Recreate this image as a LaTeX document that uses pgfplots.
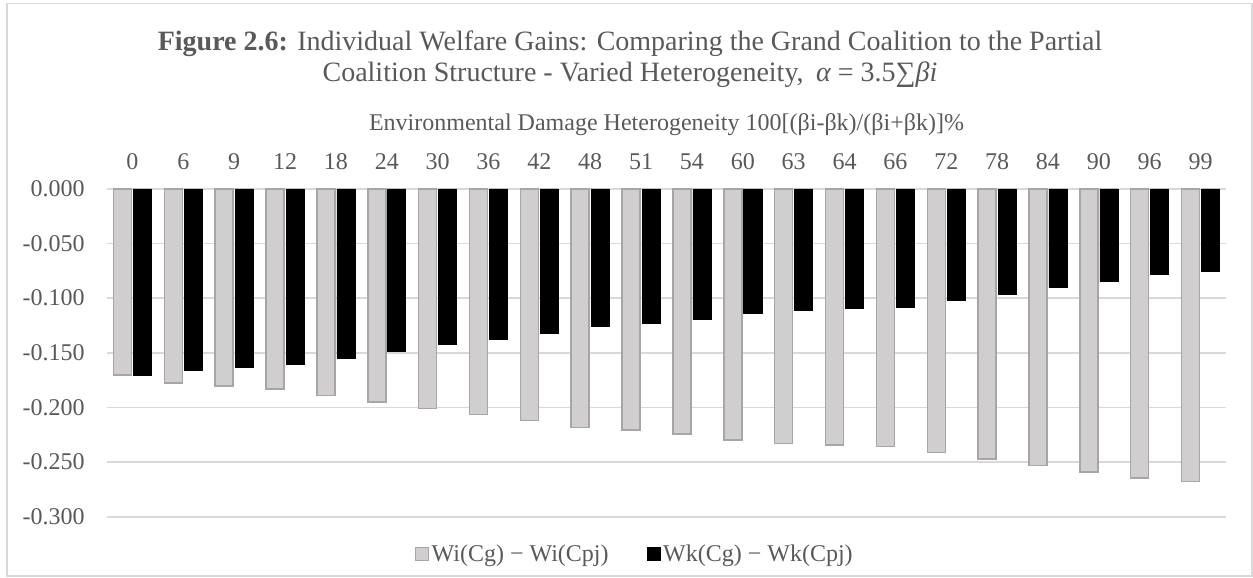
\documentclass[border=0pt]{standalone}
\usepackage{pgfplots}
\usepackage{pgfplotstable}
\pgfplotsset{compat=1.18}
\usepackage{fontspec}
\setmainfont{Liberation Serif}

\definecolor{txt}{HTML}{595959}
\definecolor{gridc}{HTML}{D9D9D9}
\definecolor{wifill}{HTML}{D0CECE}
\definecolor{wiedge}{HTML}{A6A6A6}

% square legend swatch
\pgfplotsset{sqlegend/.style={legend image code/.code={\draw[##1] (0bp,-2.7bp) rectangle (6.5bp,3.8bp);}}}

% welfare differences per heterogeneity level (idx -> 0,6,9,...,99)
\pgfplotstableread{
idx wi wk
0 -0.1704 -0.1710
1 -0.1774 -0.1664
2 -0.1804 -0.1634
3 -0.1832 -0.1603
4 -0.1890 -0.1549
5 -0.1950 -0.1488
6 -0.2008 -0.1424
7 -0.2063 -0.1374
8 -0.2121 -0.1319
9 -0.2182 -0.1257
10 -0.2208 -0.1227
11 -0.2242 -0.1196
12 -0.2297 -0.1135
13 -0.2328 -0.1110
14 -0.2343 -0.1092
15 -0.2358 -0.1080
16 -0.2413 -0.1018
17 -0.2471 -0.0962
18 -0.2529 -0.0901
19 -0.2589 -0.0846
20 -0.2647 -0.0785
21 -0.2675 -0.0751
}\gains

\newcommand{\lblfont}{\fontsize{12bp}{14bp}\selectfont}
\newcommand{\ttlfont}{\fontsize{14bp}{16bp}\selectfont}

\begin{document}
\begin{tikzpicture}
\useasboundingbox (0bp,0bp) rectangle (626.5bp,-289bp);
\draw[gridc, line width=0.75bp] (3.5bp,-1.75bp) rectangle (626bp,-288bp);

\node[anchor=base, text=txt, font=\ttlfont] at (315bp,-25bp)
  {\textbf{Figure 2.6:} Individual Welfare Gains: Comparing the Grand Coalition to the Partial};
\node[anchor=base, text=txt, font=\ttlfont] at (315bp,-40.85bp)
  {Coalition Structure - Varied Heterogeneity,\hspace{0.45em}{\itshape α} = 3.5∑{\itshape βi}};
\node[anchor=base, text=txt, font=\lblfont] at (333.25bp,-65bp)
  {Environmental Damage Heterogeneity 100[(βi-βk)/(βi+βk)]\%};

\begin{axis}[
  at={(53.5bp,-94.4bp)}, anchor=north west,
  scale only axis, width=559.5bp, height=164bp,
  xmin=-0.5, xmax=21.5, ymin=-0.3, ymax=0,
  axis line style={draw=none},
  major tick length=0pt,
  xtick={0,...,21},
  xticklabels={0,6,9,12,18,24,30,36,42,48,51,54,60,63,64,66,72,78,84,90,96,99},
  xticklabel pos=upper,
  xticklabel style={anchor=base, yshift=9.9bp, inner sep=0pt, text=txt, font=\lblfont},
  ytick={-0.3,-0.25,-0.2,-0.15,-0.1,-0.05,0},
  yticklabels={-0.300,-0.250,-0.200,-0.150,-0.100,-0.050,0.000},
  yticklabel style={anchor=east, inner sep=0pt, xshift=-11bp, text=txt, font=\lblfont},
  ymajorgrids,
  grid style={gridc, line width=0.75bp},
  legend columns=2,
  legend cell align=left,
  legend style={draw=none, fill=none, at={(0.4718,-0.1165)}, anchor=center,
    font=\lblfont, text=txt, column sep=0pt,
    /tikz/column 2/.style={column sep=18bp},
    nodes={inner sep=1.25bp}},
]
\addplot[ybar, bar width=9bp, bar shift=-5bp, fill=wifill, draw=wiedge, line width=0.75bp, sqlegend]
  table[x=idx, y=wi] {\gains};
\addplot[ybar, bar width=9bp, bar shift=5bp, fill=black, draw=black, line width=0.3bp, sqlegend]
  table[x=idx, y=wk] {\gains};
\legend{Wi(Cg) − Wi(Cpj), Wk(Cg) − Wk(Cpj)}
\end{axis}
\end{tikzpicture}
\end{document}
